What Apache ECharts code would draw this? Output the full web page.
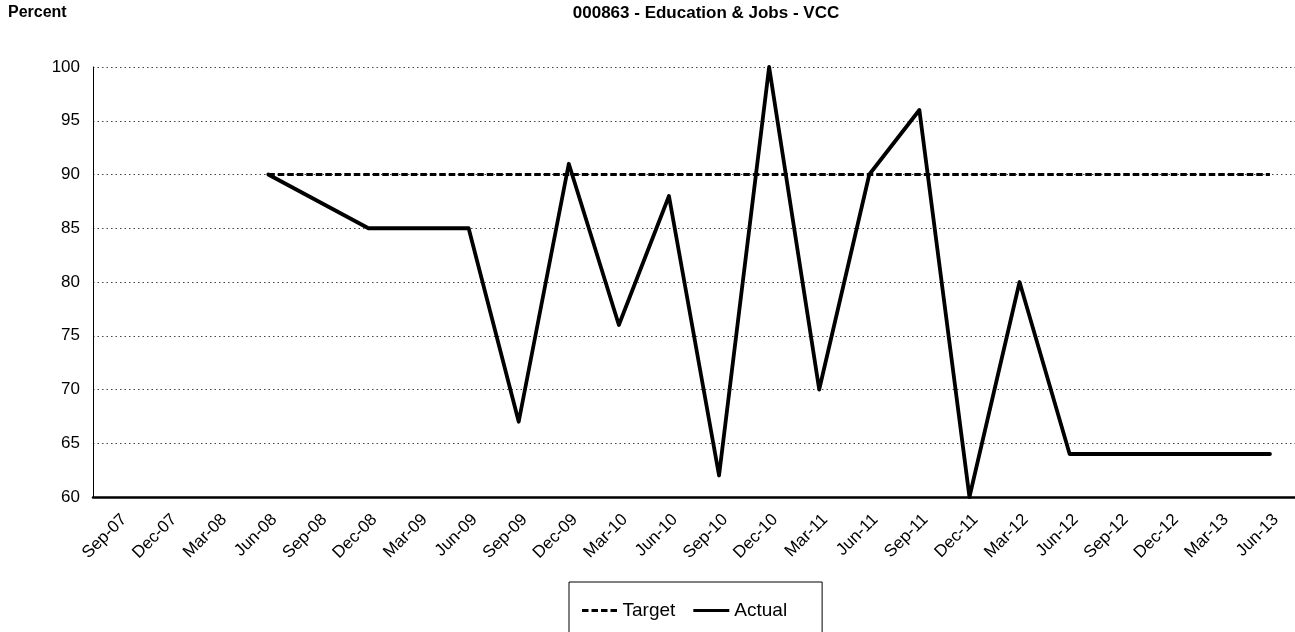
<!DOCTYPE html>
<html>
<head>
<meta charset="utf-8">
<script src="https://cdn.jsdelivr.net/npm/echarts@6/dist/echarts.min.js"></script>
<style>
  html, body { margin: 0; padding: 0; background: #fff; }
  #chart { width: 1295px; height: 632px; }
</style>
</head>
<body>
<div id="chart"></div>
<script>
// quarterly categories on the x axis
const quarters = ['Sep-07', 'Dec-07', 'Mar-08', 'Jun-08', 'Sep-08', 'Dec-08', 'Mar-09', 'Jun-09',
  'Sep-09', 'Dec-09', 'Mar-10', 'Jun-10', 'Sep-10', 'Dec-10', 'Mar-11', 'Jun-11',
  'Sep-11', 'Dec-11', 'Mar-12', 'Jun-12', 'Sep-12', 'Dec-12', 'Mar-13', 'Jun-13'];

// null = no reading for that quarter
const actual = [null, null, null, 90, null, 85, null, 85, 67, 91, 76, 88,
  62, 100, 70, 90, 96, 60, 80, 64, null, null, null, 64];
const target = [null, null, null, 90, 90, 90, 90, 90, 90, 90, 90, 90,
  90, 90, 90, 90, 90, 90, 90, 90, 90, 90, 90, 90];

const yTicks = { min: 60, max: 100, step: 5 };

const font = 'Liberation Sans, Arial, sans-serif';

const chart = echarts.init(document.getElementById('chart'));

const option = {
  backgroundColor: '#fff',
  animation: false,
  textStyle: { fontFamily: font },
  title: [
    {
      text: 'Percent',
      left: 3,
      top: 0,
      textStyle: { fontFamily: font, fontSize: 16, fontWeight: 'bold', color: '#000' }
    },
    {
      text: '000863 - Education & Jobs - VCC',
      left: 701,
      textAlign: 'center',
      top: 0,
      textStyle: { fontFamily: font, fontSize: 17, fontWeight: 'bold', color: '#000' }
    }
  ],
  legend: {
    left: 569,
    top: 582,
    orient: 'horizontal',
    padding: [19, 35, 22, 13],
    borderColor: '#000',
    borderWidth: 1,
    itemWidth: 36,
    itemHeight: 3,
    itemGap: 18,
    textStyle: { fontFamily: font, fontSize: 19, color: '#000' },
    data: [
      { name: 'Target', icon: 'path://M0,0h6.5v3h-6.5z M9.5,0h6.5v3h-6.5z M19,0h6.5v3h-6.5z M28.5,0h6.5v3h-6.5z' },
      { name: 'Actual', icon: 'path://M0,0h36v3h-36z' }
    ]
  },
  grid: {
    left: 93,
    top: 67,
    width: 1207,
    bottom: 135,
    containLabel: false
  },
  xAxis: {
    type: 'category',
    data: quarters,
    boundaryGap: true,
    axisLine: { show: true, lineStyle: { color: '#000', width: 2.5 } },
    axisTick: { show: false },
    splitLine: { show: false },
    axisLabel: {
      interval: 0,
      rotate: 45,
      margin: 14,
      verticalAlign: 'top',
      fontFamily: font,
      fontSize: 17,
      color: '#000'
    }
  },
  yAxis: {
    type: 'value',
    min: yTicks.min,
    max: yTicks.max,
    interval: yTicks.step,
    axisLine: { show: true, lineStyle: { color: '#000', width: 1 } },
    axisTick: { show: false },
    axisLabel: {
      margin: 13,
      fontFamily: font,
      fontSize: 17,
      color: '#000'
    },
    splitLine: {
      show: true,
      lineStyle: { color: '#444', width: 1, type: [1.5, 3] }
    }
  },
  series: [
    {
      name: 'Target',
      type: 'line',
      data: target,
      symbol: 'none',
      connectNulls: true,
      clip: false,
      lineStyle: { color: '#000', width: 3, type: [6.5, 3] },
      itemStyle: { color: '#000' },
      z: 2
    },
    {
      name: 'Actual',
      type: 'line',
      data: actual,
      symbol: 'none',
      connectNulls: true,
      clip: false,
      lineStyle: { color: '#000', width: 3.8, join: 'round', cap: 'round' },
      itemStyle: { color: '#000' },
      z: 3
    }
  ]
};

chart.setOption(option);
</script>
</body>
</html>
